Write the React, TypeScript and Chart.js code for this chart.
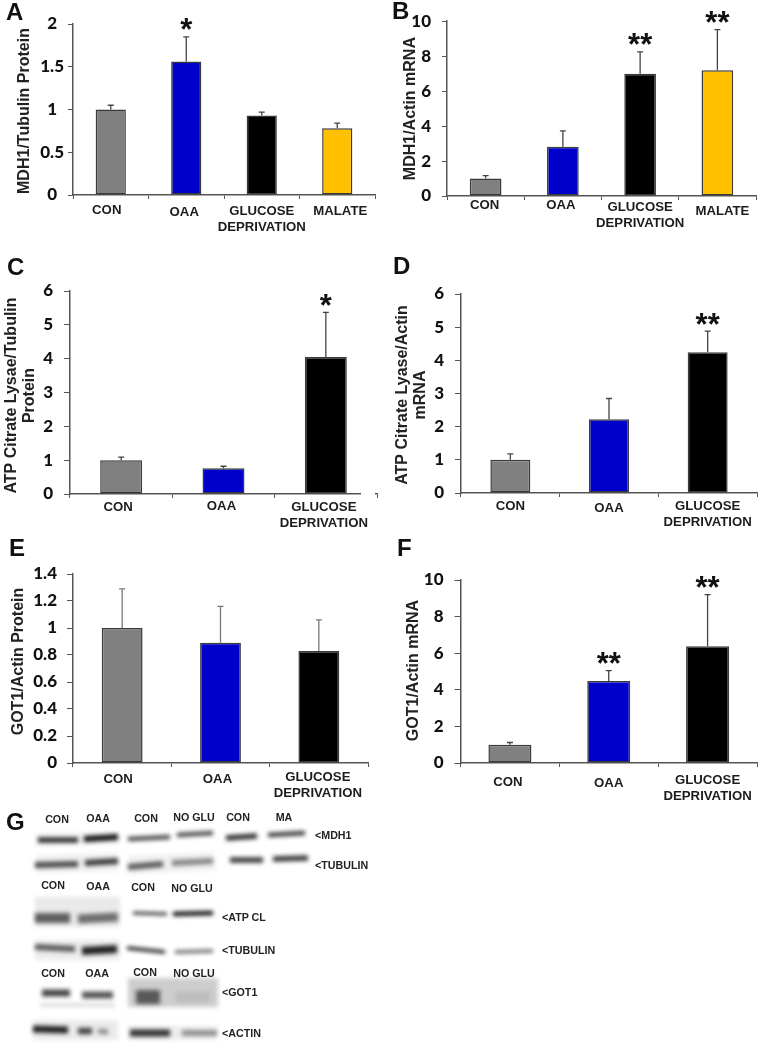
import React, { useEffect, useRef } from "react";
import { Chart, registerables } from "chart.js";

Chart.register(...registerables);

const GD = ["GLUCOSE", "DEPRIVATION"];
const catsFour = ["CON", "OAA", GD, "MALATE"];
const catsThree = ["CON", "OAA", GD];
const colorsFour = ["#808080", "#0000cc", "#000000", "#ffc000"];
const colorsThree = ["#808080", "#0000cc", "#000000"];

const aValues = [1, 1.56, 0.93, 0.78];
const aTops = [1.05, 1.85, 0.97, 0.84];
const aTicks = [0, 0.5, 1, 1.5, 2];
const aStars = ["", "*", "", ""];

const bValues = [1, 2.82, 7.0, 7.2];
const bTops = [1.17, 3.72, 8.25, 9.52];
const bTicks = [0, 2, 4, 6, 8, 10];
const bStars = ["", "", "**", "**"];

const cValues = [1, 0.76, 4.05];
const cTops = [1.09, 0.82, 5.37];
const cTicks = [0, 1, 2, 3, 4, 5, 6];
const cStars = ["", "", "*"];

const dValues = [1, 2.22, 4.24];
const dTops = [1.18, 2.85, 4.88];
const dTicks = [0, 1, 2, 3, 4, 5, 6];
const dStars = ["", "", "**"];

const eValues = [1, 0.89, 0.83];
const eTops = [1.29, 1.16, 1.06];
const eTicks = [0, 0.2, 0.4, 0.6, 0.8, 1, 1.2, 1.4];
const eStars = ["", "", ""];

const fValues = [1, 4.48, 6.38];
const fTops = [1.12, 5.05, 9.2];
const fTicks = [0, 2, 4, 6, 8, 10];
const fStars = ["", "**", "**"];

const panels: any[] = [
  { left: 0, x0: 73, x1: 375, yTop: 24, y0: 195, values: aValues, tops: aTops, ticks: aTicks, stars: aStars, cats: catsFour, colors: colorsFour,
    title: "MDH1/Tubulin Protein", titleX: 24.5, titleShift: 1.5, barPct: 0.4, tickLen: 5, labelPad: 11, fontSize: 17,
    dx: [-4, -2, 0, 3], dy: [3, 5, 4, 4], yDx: [0, 7, 0, 7, 0], err: "#444" },
  { left: 380, x0: 447, x1: 756, yTop: 21, y0: 196, values: bValues, tops: bTops, ticks: bTicks, stars: bStars, cats: catsFour, colors: colorsFour,
    title: "MDH1/Actin mRNA", titleX: 410.5, titleShift: 0, barPct: 0.41, tickLen: 5, labelPad: 11, fontSize: 17,
    dx: [-1, -2, 0, 5], dy: [-3, -3, -1, 3], err: "#444" },
  { left: 0, x0: 70, x1: 377, yTop: 290.5, y0: 494, values: cValues, tops: cTops, ticks: cTicks, stars: cStars, cats: catsThree, colors: colorsThree,
    title: ["ATP Citrate Lysae/Tubulin", "Protein"], titleX: 12, titleShift: 3, barPct: 0.41, tickLen: 6, labelPad: 11, fontSize: 17,
    dx: [-3, -2, -2], dy: [1, 0, 1], err: "#444", axisGap: [361, 375] },
  { left: 380, x0: 461, x1: 757, yTop: 293.5, y0: 493, values: dValues, tops: dTops, ticks: dTicks, stars: dStars, cats: catsThree, colors: colorsThree,
    title: ["ATP Citrate Lyase/Actin", "mRNA"], titleX: 402.5, titleShift: 1.5, barPct: 0.405, tickLen: 6, labelPad: 11, fontSize: 17,
    dx: [0, 0, 0], dy: [1, 3, 1], err: "#444" },
  { left: 0, x0: 73, x1: 368, yTop: 573.5, y0: 763, values: eValues, tops: eTops, ticks: eTicks, stars: eStars, cats: catsThree, colors: colorsThree,
    title: "GOT1/Actin Protein", titleX: 18.5, titleShift: -7, barPct: 0.415, tickLen: 6, labelPad: 10, fontSize: 17,
    dx: [-4, -3, -1], dy: [4, 4, 2], err: "#777" },
  { left: 380, x0: 460.5, x1: 757, yTop: 580, y0: 763, values: fValues, tops: fTops, ticks: fTicks, stars: fStars, cats: catsThree, colors: colorsThree,
    title: "GOT1/Actin mRNA", titleX: 413.5, titleShift: -1, barPct: 0.435, tickLen: 6, labelPad: 11, fontSize: 17,
    dx: [-2, 0, 0], dy: [7, 8, 5], err: "#444" },
];

const TITLE_SIZE = 16;
const TITLE_LH = 18;

const figurePlugin = {
  id: "figure",
  beforeDraw(chart: any, _a: any, opts: any) {
    const p = opts.panel;
    if (!p || chart.$tuned) return;
    chart.$tuned = true;
    const xs = chart.scales.x;
    const ys = chart.scales.y;
    xs.getLabelItems(chart.chartArea).forEach((it: any, i: number) => {
      it.options.translation = [it.options.translation[0] + p.dx[i], it.options.translation[1] + p.dy[i]];
    });
    if (p.yDx) {
      ys.getLabelItems(chart.chartArea).forEach((it: any, i: number) => {
        it.options.translation = [it.options.translation[0] + p.yDx[i], it.options.translation[1]];
      });
    }
    const orig = ys.drawTitle;
    ys.drawTitle = function () {
      this.top += p.titleShift;
      this.bottom += p.titleShift;
      orig.call(this);
      this.top -= p.titleShift;
      this.bottom -= p.titleShift;
    };
  },
  afterDraw(chart: any, _a: any, opts: any) {
    const p = opts.panel;
    if (!p) return;
    const { ctx } = chart;
    const xs = chart.scales.x;
    const ys = chart.scales.y;
    ctx.save();
    if (p.axisGap) {
      ctx.fillStyle = "#fff";
      ctx.fillRect(p.axisGap[0] - p.left, ys.getPixelForValue(0) - 2, p.axisGap[1] - p.axisGap[0], 4);
    }
    // error bars
    ctx.strokeStyle = p.err;
    ctx.lineWidth = 1.3;
    p.tops.forEach((top: number, i: number) => {
      const x = xs.getPixelForValue(i);
      const yA = ys.getPixelForValue(p.values[i]);
      const yB = ys.getPixelForValue(top);
      ctx.beginPath();
      ctx.moveTo(x, yA);
      ctx.lineTo(x, yB);
      ctx.moveTo(x - 3, yB);
      ctx.lineTo(x + 3, yB);
      ctx.stroke();
    });
    // significance stars
    ctx.fillStyle = "#111";
    ctx.font = "bold 31px 'Liberation Sans'";
    ctx.textAlign = "center";
    ctx.textBaseline = "alphabetic";
    p.stars.forEach((s: string, i: number) => {
      if (!s) return;
      ctx.fillText(s, xs.getPixelForValue(i), ys.getPixelForValue(p.tops[i]) - 13.5 + 17);
    });
    ctx.restore();
  },
};

function Panel({ p }: { p: any }) {
  const ref = useRef<HTMLCanvasElement>(null);
  const topPad = Math.min(p.yTop, 26);
  const canvasTop = p.yTop - topPad;
  const bottom = p.y0 + 52;
  const width = Math.min(p.x1 + 2, 759) - p.left;
  const height = bottom - canvasTop;
  useEffect(() => {
    const chart = new Chart(ref.current!, {
      type: "bar",
      data: {
        labels: p.cats,
        datasets: [
          {
            data: p.values,
            backgroundColor: p.colors,
            borderColor: "#3a3a3a",
            borderWidth: 1.5,
            borderSkipped: false,
            barPercentage: p.barPct,
            categoryPercentage: 1,
          },
        ],
      },
      options: {
        animation: false,
        responsive: false,
        devicePixelRatio: 1,
        layout: { padding: { top: topPad, right: width + p.left - p.x1, left: 0, bottom: 0 } },
        plugins: { legend: { display: false }, tooltip: { enabled: false }, figure: { panel: p } },
        scales: {
          x: {
            offset: true,
            afterFit: (s: any) => { s.height = bottom - p.y0; },
            border: { color: "#555", width: 1.5 },
            grid: { drawOnChartArea: false, drawTicks: true, tickLength: 4, color: "#555", lineWidth: 1 },
            ticks: {
              autoSkip: false,
              maxRotation: 0,
              minRotation: 0,
              padding: 0,
              color: "#1c1c1c",
              font: { family: "'Liberation Sans'", weight: "bold", size: 13.2, lineHeight: 1.22 },
            },
          },
          y: {
            min: p.ticks[0],
            max: p.ticks[p.ticks.length - 1],
            afterBuildTicks: (s: any) => { s.ticks = p.ticks.map((value: number) => ({ value })); },
            afterFit: (s: any) => { s.width = p.x0 - p.left; },
            border: { color: "#555", width: 1.5 },
            grid: { drawOnChartArea: false, drawTicks: true, tickLength: p.tickLen, color: "#555", lineWidth: 1 },
            ticks: {
              autoSkip: false,
              padding: p.labelPad,
              color: "#111",
              callback: (v: any) => String(v),
              font: { family: "Lato", weight: "900", size: p.fontSize },
            },
            title: {
              display: true,
              text: p.title,
              color: "#222",
              padding: { top: p.titleX - p.left - TITLE_LH / 2, bottom: 0 },
              font: { family: "'Liberation Sans'", weight: "bold", size: TITLE_SIZE, lineHeight: TITLE_LH / TITLE_SIZE },
            },
          },
        },
      },
      plugins: [figurePlugin],
    } as any);
    return () => chart.destroy();
  }, []);
  return (
    <canvas
      ref={ref}
      width={width}
      height={height}
      style={{ position: "absolute", left: p.left, top: canvasTop, width, height }}
    />
  );
}

// Western blot bands: x span, y span, thickness, shade (in page units)
const blotHaze = [
  { x: [35, 120], y: [912, 912], w: 30, c: "#e9e9e9" },
  { x: [35, 120], y: [950, 950], w: 20, c: "#ececec" },
  { x: [36, 118], y: [864, 862], w: 18, c: "#f0f0f0" },
  { x: [36, 118], y: [840, 838], w: 12, c: "#f0f0f0" },
  { x: [128, 215], y: [865, 861], w: 18, c: "#f0f0f0" },
  { x: [128, 218], y: [992.5, 992.5], w: 29, c: "#cdcdcd" },
  { x: [40, 115], y: [1005, 1005], w: 4, c: "#dddddd" },
  { x: [33, 118], y: [1030, 1030], w: 20, c: "#ebebeb" },
  { x: [128, 217], y: [1033, 1033], w: 14, c: "#ededed" },
];
const blotBands = [
  { x: [38, 78], y: [840, 840], w: 5, c: "#222" },
  { x: [84, 118], y: [839, 837], w: 6, c: "#111" },
  { x: [128, 170], y: [839, 837], w: 4.5, c: "#4a4a4a" },
  { x: [177, 213], y: [835, 833], w: 4.5, c: "#4a4a4a" },
  { x: [226, 257], y: [838, 836], w: 5.5, c: "#333" },
  { x: [268, 305], y: [835, 833], w: 4.5, c: "#3a3a3a" },
  { x: [35, 78], y: [865, 864], w: 6, c: "#4a4a4a" },
  { x: [85, 118], y: [863, 861], w: 6, c: "#3a3a3a" },
  { x: [128, 163], y: [867, 864], w: 6, c: "#5a5a5a" },
  { x: [172, 213], y: [863, 861], w: 6, c: "#868686" },
  { x: [230, 263], y: [860, 860], w: 5.5, c: "#3a3a3a" },
  { x: [273, 308], y: [859, 858], w: 5.5, c: "#3a3a3a" },
  { x: [35, 70], y: [918, 918], w: 10, c: "#5e5e5e" },
  { x: [78, 118], y: [919, 917], w: 9, c: "#6e6e6e" },
  { x: [133, 167], y: [913, 914], w: 3, c: "#333" },
  { x: [173, 213], y: [914, 913], w: 4.5, c: "#111" },
  { x: [35, 75], y: [947, 949], w: 6, c: "#5a5a5a" },
  { x: [82, 117], y: [951, 949], w: 8, c: "#222" },
  { x: [127, 165], y: [948, 952], w: 3.5, c: "#222" },
  { x: [175, 213], y: [952, 951], w: 3.5, c: "#6a6a6a" },
  { x: [42, 70], y: [993, 993], w: 7, c: "#444" },
  { x: [82, 113], y: [995, 995], w: 7, c: "#555" },
  { x: [136, 160], y: [997, 997], w: 14, c: "#585858" },
  { x: [176, 210], y: [997, 997], w: 11, c: "#bdbdbd" },
  { x: [33, 68], y: [1029, 1030], w: 7, c: "#222" },
  { x: [78, 92], y: [1031, 1031], w: 6.5, c: "#444" },
  { x: [98, 108], y: [1031, 1032], w: 5, c: "#8a8a8a" },
  { x: [130, 170], y: [1033, 1033], w: 7, c: "#333" },
  { x: [182, 217], y: [1033, 1033], w: 5.5, c: "#8a8a8a" },
];

const blurPlugin = {
  id: "blur",
  beforeDatasetDraw(chart: any) {
    chart.ctx.save();
    chart.ctx.filter = "blur(2px)";
  },
  afterDatasetDraw(chart: any) {
    chart.ctx.restore();
  },
};

function Blot() {
  const ref = useRef<HTMLCanvasElement>(null);
  useEffect(() => {
    const all = [...blotBands, ...blotHaze];
    const chart = new Chart(ref.current!, {
      type: "line",
      data: {
        datasets: all.map((b) => ({
          data: b.x.map((x, i) => ({ x, y: b.y[i] })),
          borderColor: b.c,
          borderWidth: b.w,
          pointRadius: 0,
          borderCapStyle: "butt",
          tension: 0,
        })),
      },
      options: {
        animation: false,
        responsive: false,
        devicePixelRatio: 1,
        layout: { padding: 0 },
        plugins: { legend: { display: false }, tooltip: { enabled: false } },
        scales: {
          x: { type: "linear", min: 0, max: 380, display: false },
          y: { type: "linear", min: 800, max: 1050, reverse: true, display: false },
        },
      },
      plugins: [blurPlugin],
    } as any);
    return () => chart.destroy();
  }, []);
  return (
    <canvas ref={ref} width={380} height={250} style={{ position: "absolute", left: 0, top: 800, width: 380, height: 250 }} />
  );
}

const panelLetters = [
  { t: "A", x: 6, y: 0 },
  { t: "B", x: 392, y: -1 },
  { t: "C", x: 7, y: 255 },
  { t: "D", x: 393, y: 254 },
  { t: "E", x: 9, y: 536 },
  { t: "F", x: 397, y: 536 },
  { t: "G", x: 6, y: 810 },
];

const blotLaneLabels = [
  { t: "CON", x: 57, y: 819 }, { t: "OAA", x: 98, y: 818 }, { t: "CON", x: 146, y: 818 },
  { t: "NO GLU", x: 194, y: 817 }, { t: "CON", x: 238, y: 817 }, { t: "MA", x: 284, y: 817 },
  { t: "CON", x: 53, y: 885 }, { t: "OAA", x: 98, y: 886 }, { t: "CON", x: 143, y: 887 }, { t: "NO GLU", x: 192, y: 888 },
  { t: "CON", x: 53, y: 973 }, { t: "OAA", x: 97, y: 973 }, { t: "CON", x: 145, y: 972 }, { t: "NO GLU", x: 194, y: 973 },
];
const blotTargets = [
  { t: "<MDH1", x: 315, y: 835 }, { t: "<TUBULIN", x: 315, y: 865 },
  { t: "<ATP CL", x: 222, y: 917 }, { t: "<TUBULIN", x: 222, y: 950 },
  { t: "<GOT1", x: 222, y: 992 }, { t: "<ACTIN", x: 222, y: 1033 },
];

const sans = "'Liberation Sans', Arial, sans-serif";

export default function App() {
  return (
    <div style={{ position: "absolute", left: 0, top: 0, width: 759, height: 1050, overflow: "hidden", background: "#fff" }}>
      {panels.map((p, i) => <Panel key={i} p={p} />)}
      <Blot />
      {panelLetters.map((l) => (
        <div key={l.t} style={{ position: "absolute", left: l.x, top: l.y, font: `bold 24px/1 ${sans}`, color: "#111" }}>{l.t}</div>
      ))}
      {blotLaneLabels.map((l, i) => (
        <div key={i} style={{ position: "absolute", left: l.x, top: l.y - 7, height: 14, transform: "translateX(-50%)", whiteSpace: "nowrap", font: `bold 10.7px/14px ${sans}`, color: "#222", filter: "blur(0.3px)" }}>{l.t}</div>
      ))}
      {blotTargets.map((l, i) => (
        <div key={i} style={{ position: "absolute", left: l.x, top: l.y - 7, height: 14, whiteSpace: "nowrap", font: `bold 10.7px/14px ${sans}`, color: "#222", filter: "blur(0.3px)" }}>{l.t}</div>
      ))}
    </div>
  );
}
